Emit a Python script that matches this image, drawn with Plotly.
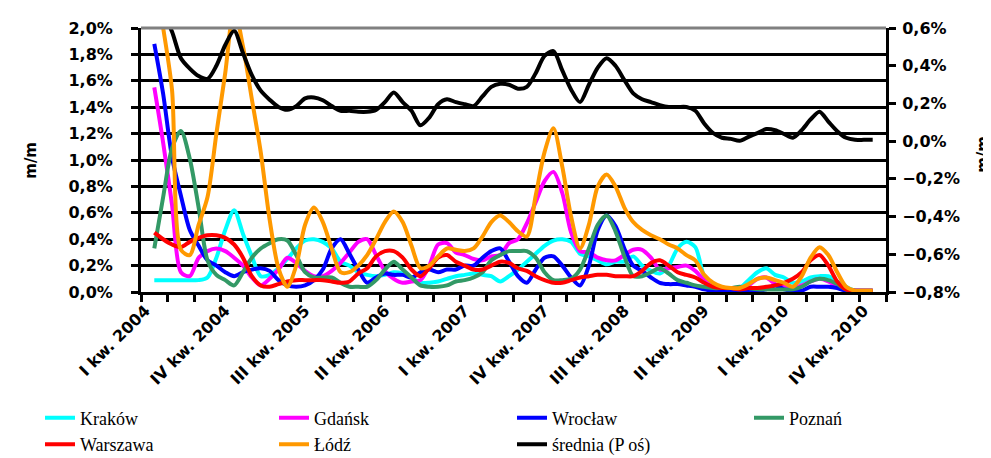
import plotly.graph_objects as go

# month index of each point (0 = Jan 2004, axis shows 84 months, data Feb 2004 - Nov 2010)
months = list(range(1, 83))

tick_pos = [0, 9, 18, 27, 36, 45, 54, 63, 72, 81]
tick_text = ["I kw. 2004", "IV kw. 2004", "III kw. 2005", "II kw. 2006", "I kw. 2007",
             "IV kw. 2007", "III kw. 2008", "II kw. 2009", "I kw. 2010", "IV kw. 2010"]

krakow = [0.09, 0.09, 0.09, 0.09, 0.09, 0.09, 0.11, 0.26, 0.47, 0.62,
          0.44, 0.27, 0.12, 0.13, 0.18, 0.25, 0.33, 0.39, 0.40, 0.38,
          0.33, 0.23, 0.20, 0.15, 0.13, 0.12, 0.13, 0.15, 0.14, 0.11,
          0.07, 0.07, 0.08, 0.10, 0.12, 0.13, 0.14, 0.13, 0.12, 0.08,
          0.12, 0.17, 0.23, 0.29, 0.35, 0.39, 0.40, 0.38, 0.29, 0.27,
          0.24, 0.21, 0.23, 0.23, 0.27, 0.20, 0.16, 0.14, 0.20, 0.33,
          0.38, 0.34, 0.12, 0.05, 0.03, 0.02, 0.03, 0.09, 0.15, 0.18,
          0.13, 0.11, 0.07, 0.08, 0.11, 0.12, 0.12, 0.08, 0.04, 0.01,
          0.00, 0.00]

gdansk = [1.55, 1.13, 0.66, 0.15, 0.12, 0.26, 0.31, 0.33, 0.31, 0.26,
          0.20, 0.11, 0.05, 0.10, 0.17, 0.26, 0.22, 0.16, 0.12, 0.12,
          0.16, 0.22, 0.30, 0.38, 0.40, 0.28, 0.16, 0.10, 0.07, 0.08,
          0.09, 0.20, 0.36, 0.37, 0.30, 0.28, 0.25, 0.24, 0.27, 0.28,
          0.37, 0.40, 0.52, 0.68, 0.84, 0.91, 0.75, 0.45, 0.31, 0.30,
          0.26, 0.24, 0.24, 0.28, 0.32, 0.32, 0.26, 0.17, 0.18, 0.19,
          0.20, 0.16, 0.09, 0.05, 0.03, 0.02, 0.03, 0.05, 0.10, 0.11,
          0.06, 0.04, 0.03, 0.05, 0.08, 0.10, 0.08, 0.04, 0.02, 0.01,
          0.01, 0.01]

wroclaw = [1.88, 1.50, 1.02, 0.73, 0.47, 0.35, 0.24, 0.20, 0.15, 0.12,
           0.15, 0.17, 0.18, 0.16, 0.09, 0.05, 0.04, 0.05, 0.09, 0.17,
           0.33, 0.40, 0.29, 0.17, 0.07, 0.11, 0.14, 0.13, 0.13, 0.11,
           0.15, 0.17, 0.15, 0.17, 0.17, 0.20, 0.20, 0.26, 0.31, 0.33,
           0.23, 0.12, 0.07, 0.17, 0.26, 0.27, 0.20, 0.11, 0.05, 0.20,
           0.47, 0.58, 0.50, 0.33, 0.20, 0.16, 0.11, 0.07, 0.06, 0.06,
           0.05, 0.04, 0.02, 0.01, 0.01, 0.01, 0.01, 0.01, 0.01, 0.02,
           0.05, 0.02, 0.01, 0.01, 0.04, 0.04, 0.04, 0.03, 0.01, 0.01,
           0.01, 0.01]

poznan = [0.33, 0.72, 1.09, 1.22, 1.01, 0.64, 0.24, 0.13, 0.09, 0.05,
          0.15, 0.26, 0.33, 0.37, 0.40, 0.39, 0.28, 0.15, 0.11, 0.11,
          0.11, 0.07, 0.04, 0.04, 0.04, 0.09, 0.17, 0.23, 0.17, 0.11,
          0.05, 0.04, 0.04, 0.05, 0.08, 0.09, 0.11, 0.15, 0.24, 0.28,
          0.31, 0.31, 0.31, 0.26, 0.15, 0.09, 0.09, 0.10, 0.17, 0.33,
          0.51, 0.58, 0.46, 0.27, 0.12, 0.12, 0.15, 0.18, 0.14, 0.09,
          0.07, 0.05, 0.04, 0.03, 0.03, 0.03, 0.04, 0.03, 0.02, 0.02,
          0.02, 0.02, 0.02, 0.04, 0.08, 0.10, 0.09, 0.06, 0.02, 0.01,
          0.01, 0.01]

warszawa = [0.45, 0.40, 0.36, 0.34, 0.38, 0.41, 0.43, 0.43, 0.41, 0.36,
            0.26, 0.12, 0.05, 0.04, 0.06, 0.08, 0.09, 0.09, 0.09, 0.09,
            0.08, 0.07, 0.08, 0.14, 0.18, 0.27, 0.31, 0.31, 0.26, 0.17,
            0.12, 0.18, 0.26, 0.28, 0.23, 0.20, 0.17, 0.17, 0.20, 0.23,
            0.22, 0.18, 0.16, 0.12, 0.09, 0.07, 0.07, 0.09, 0.11, 0.12,
            0.13, 0.13, 0.12, 0.12, 0.12, 0.16, 0.22, 0.24, 0.20, 0.15,
            0.13, 0.11, 0.07, 0.04, 0.03, 0.03, 0.02, 0.03, 0.03, 0.04,
            0.05, 0.07, 0.10, 0.15, 0.24, 0.28, 0.20, 0.08, 0.02, 0.01,
            0.01, 0.01]

lodz = [2.40, 2.00, 1.53, 0.32, 0.28, 0.51, 0.72, 1.20, 1.66, 2.15,
        1.86, 1.46, 1.06, 0.55, 0.18, 0.04, 0.20, 0.51, 0.64, 0.53,
        0.33, 0.15, 0.15, 0.20, 0.28, 0.40, 0.53, 0.61, 0.53, 0.35,
        0.18, 0.20, 0.27, 0.33, 0.32, 0.31, 0.33, 0.42, 0.53, 0.58,
        0.53, 0.46, 0.42, 0.73, 1.06, 1.24, 0.95, 0.57, 0.33, 0.51,
        0.80, 0.89, 0.80, 0.64, 0.53, 0.47, 0.43, 0.40, 0.36, 0.33,
        0.28, 0.24, 0.13, 0.07, 0.04, 0.03, 0.03, 0.06, 0.10, 0.11,
        0.09, 0.07, 0.04, 0.12, 0.26, 0.34, 0.28, 0.15, 0.04, 0.01,
        0.01, 0.01]

srednia = [0.75, 0.68, 0.58, 0.44, 0.385, 0.345, 0.33, 0.40, 0.51, 0.585,
           0.467, 0.35, 0.268, 0.22, 0.181, 0.166, 0.186, 0.227, 0.232, 0.217,
           0.186, 0.161, 0.161, 0.156, 0.156, 0.166, 0.207, 0.258, 0.207, 0.161,
           0.084, 0.125, 0.196, 0.222, 0.207, 0.196, 0.186, 0.237, 0.288, 0.304,
           0.299, 0.278, 0.288, 0.36, 0.452, 0.477, 0.375, 0.273, 0.207, 0.299,
           0.39, 0.44, 0.40, 0.324, 0.253, 0.222, 0.207, 0.191, 0.181, 0.181,
           0.181, 0.161, 0.094, 0.043, 0.018, 0.012, 0.002, 0.023, 0.043, 0.064,
           0.058, 0.038, 0.018, 0.058, 0.115, 0.156, 0.104, 0.053, 0.018, 0.007,
           0.007, 0.007]

# (name, values, colour, y axis, legend column)
series = [
    ("Kraków", krakow, "#00FFFF", "y", "legend"),
    ("Gdańsk", gdansk, "#FF00FF", "y", "legend2"),
    ("Wrocław", wroclaw, "#0000FF", "y", "legend3"),
    ("Poznań", poznan, "#339966", "y", "legend4"),
    ("Warszawa", warszawa, "#FF0000", "y", "legend"),
    ("Łódź", lodz, "#FF9900", "y", "legend2"),
    ("średnia (P oś)", srednia, "#000000", "y2", "legend3"),
]

fig = go.Figure()
for name, vals, color, yax, leg in series:
    fig.add_trace(go.Scatter(x=months, y=vals, name=name, yaxis=yax, mode="lines", legend=leg,
                             line=dict(color=color, width=4, shape="spline", smoothing=0.8)))

tick_font = dict(family="DejaVu Sans", size=16, color="black", weight="bold")
legend_font = dict(family="Liberation Serif", size=18, color="black")
title_font = dict(family="DejaVu Sans", size=15, color="black", weight="bold")


# one legend per column; wide entries make the two items of a column wrap onto two rows
def legend_box(xpx):
    return dict(orientation="h", xref="container", x=xpx / 991, yref="container", y=0.145,
                yanchor="top", xanchor="left", font=legend_font, tracegroupgap=0,
                entrywidth=380, entrywidthmode="pixels", bgcolor="rgba(0,0,0,0)")


fig.update_layout(
    width=991, height=458,
    margin=dict(l=133, r=113, t=11, b=173),
    paper_bgcolor="white", plot_bgcolor="white",
    separators=", ",
    showlegend=True,
    xaxis=dict(range=[-0.5, 83.5], tickmode="array", tickvals=tick_pos, ticktext=tick_text,
               ticks="", tickangle=-45, tickfont=tick_font, showgrid=False, zeroline=False,
               showline=True, linecolor="black", linewidth=3,
               minor=dict(ticks="outside", tickmode="linear", tick0=-0.5, dtick=3,
                          ticklen=7, tickwidth=3, tickcolor="black", showgrid=False)),
    yaxis=dict(range=[0, 2.0], dtick=0.2, tickformat=".1f", ticksuffix="%", tickfont=tick_font,
               showgrid=True, gridcolor="black", gridwidth=2.5, zeroline=False,
               showline=True, linecolor="black", linewidth=3,
               ticks="outside", ticklen=7, tickwidth=3, tickcolor="black", ticklabelstandoff=15),
    yaxis2=dict(range=[-0.8, 0.6], dtick=0.2, tickformat=".1f", ticksuffix="%", tickfont=tick_font,
                overlaying="y", side="right", showgrid=False, zeroline=False,
                showline=True, linecolor="black", linewidth=3,
                ticks="outside", ticklen=7, tickwidth=3, tickcolor="black", ticklabelstandoff=3),
    legend=legend_box(32),
    legend2=legend_box(266),
    legend3=legend_box(504),
    legend4=legend_box(741),
    shapes=[dict(type="line", xref="paper", yref="paper", x0=0, x1=1, y0=1, y1=1,
                 line=dict(color="#808080", width=3), layer="above")],
    annotations=[
        dict(text="m/m", xref="paper", yref="paper", x=-0.148, y=0.5, xanchor="center",
             showarrow=False, textangle=-90, font=title_font),
        dict(text="m/m", xref="paper", yref="paper", x=1.145, y=0.52, xanchor="right",
             showarrow=False, textangle=-90, font=title_font),
    ],
)

fig.write_html("out.html")
